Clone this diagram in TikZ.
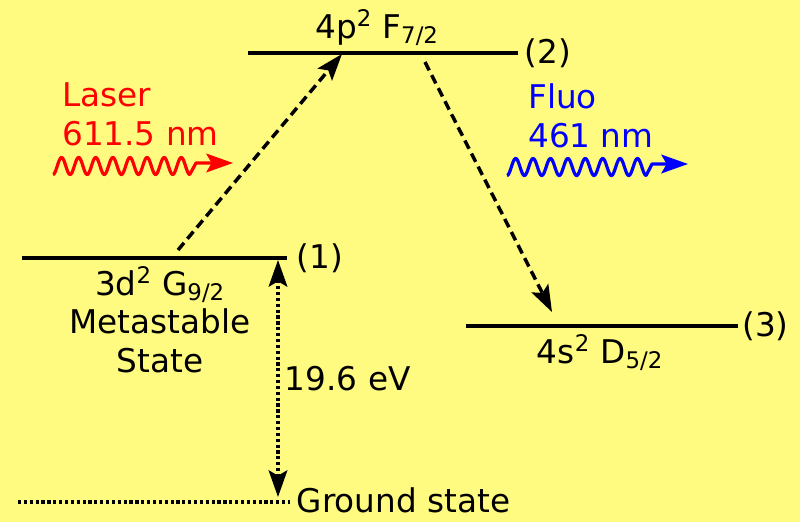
\documentclass[tikz,border=0pt]{standalone}
\usepackage{fontspec}
\setmainfont{DejaVu Sans}
\usetikzlibrary{positioning, arrows.meta}
\definecolor{bgyellow}{RGB}{255,250,128}

\begin{document}
\begin{tikzpicture}[
  x=0.75pt, y=-0.75pt,
  >={Stealth[length=20pt, width=14pt, inset=4pt]},
  every node/.style = {font=\fontsize{24.5}{29}\selectfont, inner sep=3pt},
  level/.style = {line width=2.6pt},
  trans/.style = {->, line width=2.6pt, dash pattern=on 7pt off 4pt},
  photon/.style = {->, line width=2.4pt, line join=round},
]
  \fill[bgyellow] (0,0) rectangle (800,522);
  \useasboundingbox (0,0) rectangle (800,522);

  % energy levels
  \coordinate (l1w) at (22,258);  \coordinate (l1e) at (287,258);
  \coordinate (l2w) at (248,53);  \coordinate (l2e) at (518,53);
  \coordinate (l3w) at (466,326); \coordinate (l3e) at (738,326);
  \coordinate (gw)  at (18,502);  \coordinate (ge)  at (290,502);

  \draw[level] (l1w) -- (l1e);
  \draw[level] (l2w) -- (l2e);
  \draw[level] (l3w) -- (l3e);
  \draw[line width=2.4pt, dotted] (gw) -- (ge);

  \node[right=4pt of l1e] (n1) {(1)};
  \node[right=2pt of l2e] (n2) {(2)};
  \node[right=0pt of l3e] (n3) {(3)};
  \node[right=2pt of ge, yshift=1pt] (gnd) {Ground state};

  \node[anchor=south] (t2) at (377,50) {4p\textsuperscript{2} F\textsubscript{7/2}};
  \node[anchor=north, align=center] (t1) at (160,262)
    {3d\textsuperscript{2} G\textsubscript{9/2}\\Metastable\\State};
  \node[anchor=north] (t3) at (600,330) {4s\textsuperscript{2} D\textsubscript{5/2}};

  % transitions
  \coordinate (up0) at (178,250); \coordinate (up1) at (342,54);
  \coordinate (dn0) at (425,62);  \coordinate (dn1) at (552,312);
  \draw[trans] (up0) -- (up1);
  \draw[trans] (dn0) -- (dn1);

  \coordinate (e0) at (278,260); \coordinate (e1) at (278,497);
  \draw[<->, line width=2.4pt, dotted] (e0) -- node[right, xshift=1pt]{19.6 eV} (e1);

  % laser and fluorescence
  \node[red, anchor=west, align=left] (laser) at (58,114) {Laser\\611.5 nm};
  \coordinate (la0) at (196,163); \coordinate (la1) at (233,163);
  \draw[photon, red] plot[domain=0:8, samples=200] ({53+17.1*\x}, {166+8.5*cos(360*\x)})
    -- (la0) -- (la1);

  \node[blue, anchor=west, align=left] (fluo) at (524,116) {Fluo\\461 nm};
  \coordinate (fl0) at (652,164); \coordinate (fl1) at (688,164);
  \draw[photon, blue] plot[domain=0:8, samples=200] ({507+17.4*\x}, {167+8.5*cos(360*\x)})
    -- (fl0) -- (fl1);
\end{tikzpicture}
\end{document}
